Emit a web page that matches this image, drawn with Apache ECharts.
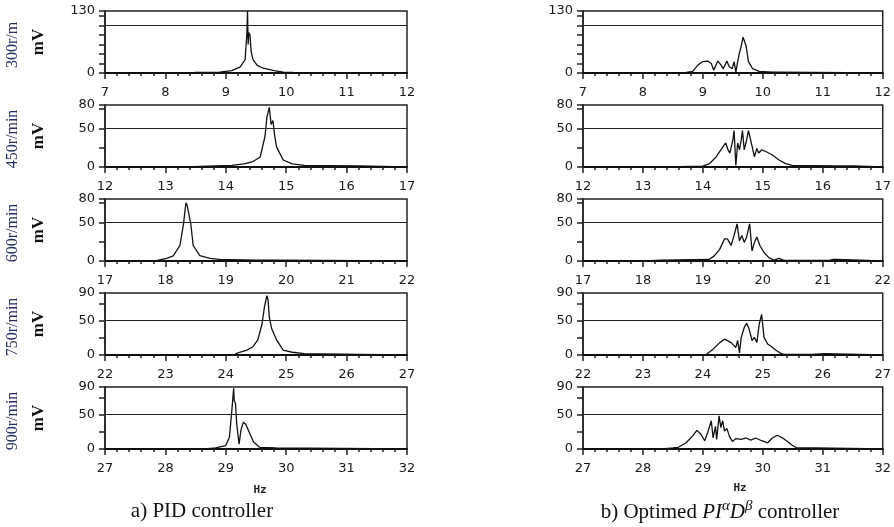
<!DOCTYPE html>
<html>
<head>
<meta charset="utf-8" />
<script type="text/javascript" src="https://cdn.jsdelivr.net/npm/echarts@6/dist/echarts.min.js"></script>
<title>spectra</title>
<style>body{margin:0;background:#fff;}</style>
</head>
<body>
<div id="main" style="width:894px;height:527px"></div>
<script type="text/javascript">
// row settings
var speeds = ['300r/m', '450r/min', '600r/min', '750r/min', '900r/min'];
var xStart = [7, 12, 17, 22, 27];
var yMax = [130, 80, 80, 90, 90];
var yStep = [20, 25, 25, 25, 25];
var yLabels = [[0, 130], [0, 50, 80], [0, 50, 80], [0, 50, 90], [0, 50, 90]];
var refLine = [100, 50, 50, 50, 50];

// a) PID controller
var pid300Hz = [7, 8.45, 8.5, 8.9, 9.1, 9.24, 9.32, 9.35, 9.36, 9.37, 9.38, 9.4, 9.42, 9.45, 9.52, 9.62, 9.8, 9.95, 10.1, 10.15, 12];
var pid300mV = [0, 0, 1.5, 2, 5, 13, 28, 85, 130, 60, 85, 80, 45, 28, 16, 10, 5, 2, 1.5, 0, 0];
var pid450Hz = [12, 13.32, 13.35, 14.1, 14.3, 14.45, 14.57, 14.65, 14.68, 14.72, 14.75, 14.78, 14.81, 14.84, 14.95, 15.1, 15.3, 16.2, 16.22, 17];
var pid450mV = [0, 0, 1.5, 2, 4, 7, 13, 40, 64, 77, 55, 60, 40, 26, 9, 4, 2, 1.5, 0, 0];
var pid600Hz = [17, 17.83, 17.86, 18.02, 18.13, 18.24, 18.3, 18.34, 18.36, 18.38, 18.42, 18.46, 18.57, 18.74, 18.9, 19.5, 19.87, 19.9, 22];
var pid600mV = [0, 0, 2, 3.5, 6.6, 20, 48, 75, 72, 70, 48, 20, 7, 3.5, 2, 1, 1, 0, 0];
var pid750Hz = [22, 23.24, 23.27, 24.15, 24.2, 24.35, 24.45, 24.53, 24.6, 24.64, 24.68, 24.7, 24.72, 24.76, 24.84, 24.95, 25.1, 25.3, 26.2, 26.22, 27];
var pid750mV = [0, 0, 1, 1, 3, 7, 12, 22, 45, 70, 86, 80, 55, 38, 22, 7, 4, 2, 1, 0, 0];
var pid900Hz = [27, 28.65, 28.67, 28.83, 29.0, 29.06, 29.1, 29.13, 29.14, 29.16, 29.18, 29.22, 29.25, 29.29, 29.33, 29.39, 29.46, 29.56, 29.83, 29.85, 32];
var pid900mV = [0, 0, 1.5, 1.5, 5, 17, 56, 88, 70, 66, 37, 7, 27, 39, 36, 24, 10, 2.5, 1.5, 0, 0];

// b) optimed PI^a D^b controller
var opt300Hz = [7, 8.68, 8.70, 8.83, 8.92, 9.0, 9.08, 9.14, 9.18, 9.25, 9.3, 9.34, 9.4, 9.44, 9.49, 9.52, 9.55, 9.58, 9.61, 9.64, 9.67, 9.72, 9.76, 9.83, 9.94, 10.16, 10.22, 10.25, 12];
var opt300mV = [0, 0, 2, 3.5, 17, 24, 25, 20, 6, 25, 17, 9, 25, 13, 9, 24, 2, 24, 42, 57, 75, 57, 24, 9, 3.5, 2, 2, 0, 0];
var opt450Hz = [12, 13.43, 13.45, 14.0, 14.11, 14.22, 14.3, 14.38, 14.42, 14.45, 14.5, 14.52, 14.55, 14.58, 14.61, 14.64, 14.66, 14.69, 14.73, 14.76, 14.78, 14.82, 14.86, 14.9, 14.93, 14.98, 15.05, 15.16, 15.27, 15.38, 15.49, 16.2, 16.5, 16.52, 17];
var opt450mV = [0, 0, 1, 1, 4.4, 13, 22, 31, 22, 18, 35, 47, 2, 31, 22, 35, 47, 22, 35, 47, 49, 27, 13, 24, 18, 22, 20, 15.5, 9, 4.4, 2, 1.5, 1.5, 0, 0];
var opt600Hz = [17, 18.02, 18.03, 18.31, 19.1, 19.19, 19.28, 19.36, 19.41, 19.47, 19.52, 19.57, 19.61, 19.65, 19.69, 19.73, 19.78, 19.82, 19.86, 19.9, 19.95, 20.02, 20.1, 20.19, 20.27, 20.35, 21.1, 21.18, 21.24, 21.27, 22];
var opt600mV = [0, 0, 1.5, 1, 2, 6.6, 15, 28.5, 28.5, 20, 33, 48, 26, 33, 24, 31, 48, 13, 24, 31, 20, 11, 4.4, 1, 3.5, 0.7, 0.7, 2, 2, 0, 0];
var opt750Hz = [22, 23.43, 23.45, 24.06, 24.17, 24.28, 24.36, 24.47, 24.55, 24.58, 24.61, 24.64, 24.69, 24.73, 24.77, 24.82, 24.86, 24.9, 24.94, 24.98, 25.02, 25.08, 25.13, 25.22, 25.3, 25.35, 25.82, 26.04, 26.07, 27];
var opt750mV = [0, 0, 1, 1, 8.5, 18, 23, 18, 11, 21, 3, 25.6, 40, 46, 38, 21, 25.6, 18, 45, 59, 25.6, 16, 13, 7, 2.4, 1, 1, 2, 0, 0];
var opt900Hz = [27, 28.32, 28.34, 28.5, 28.59, 28.72, 28.83, 28.9, 28.97, 29.03, 29.08, 29.14, 29.17, 29.21, 29.23, 29.27, 29.3, 29.33, 29.36, 29.4, 29.44, 29.49, 29.55, 29.64, 29.72, 29.8, 29.88, 29.98, 30.08, 30.16, 30.24, 30.33, 30.41, 30.49, 30.57, 30.88, 30.9, 32];
var opt900mV = [0, 0, 1.5, 1.5, 2.5, 9, 19, 27, 21, 12, 24, 41, 16, 33, 14, 48, 31, 41, 26, 30, 19, 11, 15, 14, 16, 13, 16, 12, 9, 16, 20, 16, 11, 5.4, 1.5, 1.5, 0, 0];

var pidHz = [pid300Hz, pid450Hz, pid600Hz, pid750Hz, pid900Hz];
var pidmV = [pid300mV, pid450mV, pid600mV, pid750mV, pid900mV];
var optHz = [opt300Hz, opt450Hz, opt600Hz, opt750Hz, opt900Hz];
var optmV = [opt300mV, opt450mV, opt600mV, opt750mV, opt900mV];

var colLeft = [105, 583];
var colWidth = [302, 301];
var rowTop = [11, 105, 199, 293, 387];
var plotH = 62;
var tickFont = 'DejaVu Sans';

function zip(xs, ys) {
  var out = [];
  for (var i = 0; i < xs.length; i++) out.push([xs[i], ys[i]]);
  return out;
}

var myChart = echarts.init(document.getElementById('main'));
var grids = [], xAxes = [], yAxes = [], series = [], graphics = [];

for (var c = 0; c < 2; c++) {
  for (var r = 0; r < 5; r++) {
    var k = grids.length;
    var labs = yLabels[r];
    grids.push({
      left: colLeft[c], top: rowTop[r], width: colWidth[c], height: plotH,
      show: true, borderColor: '#222', borderWidth: 1.5, backgroundColor: '#fff'
    });
    xAxes.push({
      type: 'value', gridIndex: k, min: xStart[r], max: xStart[r] + 5, interval: 1,
      axisLine: { onZero: false, lineStyle: { color: '#111', width: 2 } },
      axisTick: { length: 6, lineStyle: { color: '#222', width: 1.5 } },
      minorTick: { show: true, splitNumber: 5, length: 3, lineStyle: { color: '#222', width: 1.5 } },
      splitLine: { show: false },
      axisLabel: { margin: 13, fontFamily: tickFont, fontSize: 13, color: '#1a1a1a' }
    });
    yAxes.push({
      type: 'value', gridIndex: k, min: 0, max: yMax[r], interval: yStep[r],
      name: c === 0 ? 'mV' : '', nameLocation: 'middle', nameGap: 58, nameRotate: 90,
      nameTextStyle: { fontFamily: 'Liberation Serif', fontSize: 17, fontWeight: 'bold', color: '#111' },
      axisLine: { show: true, lineStyle: { color: '#222', width: 1.5 } },
      axisTick: { length: 6, lineStyle: { color: '#222', width: 1.5 } },
      splitLine: { show: false },
      axisLabel: {
        margin: 10, fontFamily: tickFont, fontSize: 13, color: '#1a1a1a',
        formatter: (function (l) {
          return function (v) { return l.indexOf(v) >= 0 ? String(v) : ''; };
        })(labs)
      }
    });
    series.push({
      type: 'line', xAxisIndex: k, yAxisIndex: k, showSymbol: false, symbol: 'none',
      lineStyle: { color: '#111', width: 1.3 },
      data: c === 0 ? zip(pidHz[r], pidmV[r]) : zip(optHz[r], optmV[r]),
      markLine: {
        silent: true, symbol: 'none', label: { show: false },
        lineStyle: { color: '#222', width: 1.2, type: 'solid' },
        data: [{ yAxis: refLine[r] }]
      }
    });
    if (c === 0) {
      graphics.push({
        type: 'text', x: 13, y: rowTop[r] + plotH / 2 + 3, rotation: Math.PI / 2,
        style: { text: speeds[r], font: '16px "Liberation Serif"', fill: '#243060', align: 'center', verticalAlign: 'middle' }
      });
    }
  }
}

graphics.push({
  type: 'text', x: 260, y: 490,
  style: { text: 'Hz', font: 'bold 11px "DejaVu Sans Mono"', fill: '#222', align: 'center', verticalAlign: 'middle' }
});
graphics.push({
  type: 'text', x: 740, y: 488,
  style: { text: 'Hz', font: 'bold 11px "DejaVu Sans Mono"', fill: '#222', align: 'center', verticalAlign: 'middle' }
});
graphics.push({
  type: 'text', x: 202, y: 511,
  style: { text: 'a) PID controller', font: '21px "Liberation Serif"', fill: '#111', align: 'center', verticalAlign: 'middle' }
});
graphics.push({
  type: 'text', x: 720, y: 512,
  style: {
    text: '{n|b) Optimed }{i|PI}{s|α}{i|D}{s|β}{n| controller}',
    align: 'center', verticalAlign: 'middle',
    rich: {
      n: { font: '21px "Liberation Serif"', fill: '#111', lineHeight: 26 },
      i: { font: 'italic 21px "Liberation Serif"', fill: '#111', lineHeight: 26 },
      s: { font: 'italic 15px "Liberation Serif"', fill: '#111', lineHeight: 26, verticalAlign: 'top', padding: [0, 0, 8, 0] }
    }
  }
});

var option = {
  animation: false,
  backgroundColor: '#fff',
  grid: grids,
  xAxis: xAxes,
  yAxis: yAxes,
  series: series,
  graphic: graphics
};
myChart.setOption(option);
</script>
</body>
</html>
